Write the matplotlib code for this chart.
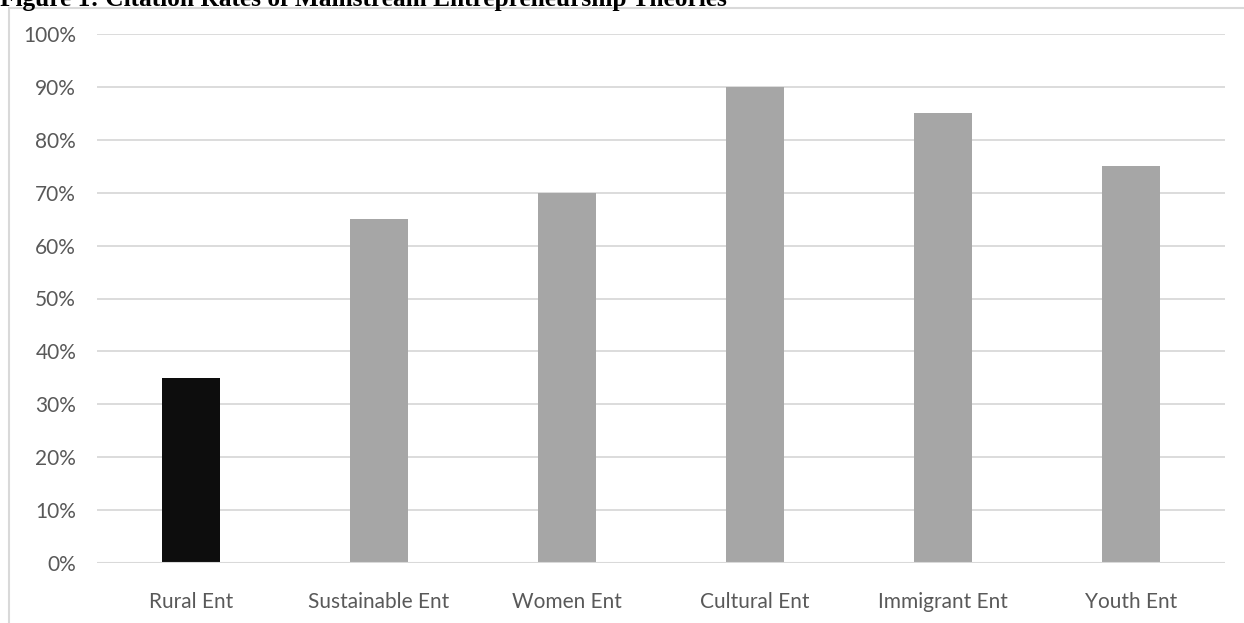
import matplotlib.pyplot as plt
from matplotlib.patches import Rectangle
from matplotlib.ticker import PercentFormatter

# Citation rates per entrepreneurship theory
categories = ['Rural Ent', 'Sustainable Ent', 'Women Ent', 'Cultural Ent', 'Immigrant Ent', 'Youth Ent']
rates = [35, 65, 70, 90, 85, 75]
bar_colors = ['#0d0d0d', '#a6a6a6', '#a6a6a6', '#a6a6a6', '#a6a6a6', '#a6a6a6']
yticks = list(range(0, 101, 10))

W, H = 1244, 623
fig = plt.figure(figsize=(W / 100, H / 100), dpi=100)
ax = fig.add_axes([97 / W, 1 - 563 / H, (1225 - 97) / W, (563 - 34) / H])

# chart frame (runs off the right and bottom edges)
fig.patches.append(Rectangle((8.5 / W, -0.05), 1.1, 1 - 8.5 / H + 0.05, transform=fig.transFigure,
                             fill=False, edgecolor='#d9d9d9', linewidth=1.5))

ax.bar(range(len(categories)), rates, width=0.31, color=bar_colors, zorder=3)

ax.set_xlim(-0.5, len(categories) - 0.5)
ax.set_ylim(0, 100)
ax.set_yticks(yticks)
ax.yaxis.set_major_formatter(PercentFormatter(decimals=0))
ax.set_xticks(range(len(categories)))
ax.set_xticklabels(categories)
ax.grid(axis='y', color='#d9d9d9', linewidth=1.3, zorder=0)
for s in ax.spines.values():
    s.set_visible(False)
ax.tick_params(length=0, colors='#595959', labelsize=15)
ax.tick_params(axis='y', pad=15)
ax.tick_params(axis='x', pad=21)
for lbl in ax.get_xticklabels() + ax.get_yticklabels():
    lbl.set_family('Lato')
ax.axhline(0, color='#d9d9d9', linewidth=1.5, zorder=4)

# title is cut off at the top in the original image
fig.text(0.0, 1 - 6 / H, 'Figure 1: Citation Rates of Mainstream Entrepreneurship Theories',
         family='Liberation Serif', weight='bold', fontsize=18.3, va='baseline', ha='left')

fig.savefig('out.png', dpi=100)
